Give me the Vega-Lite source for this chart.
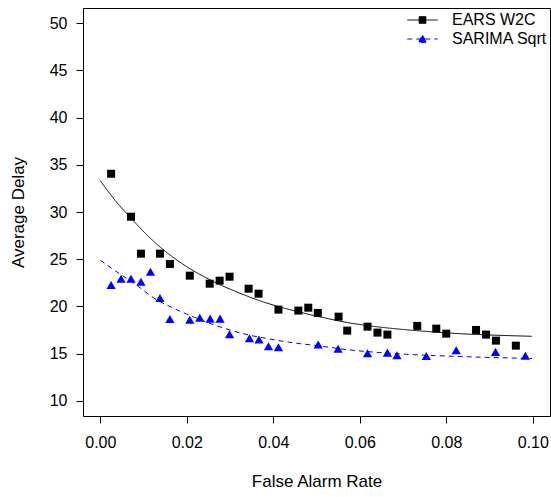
{
  "$schema": "https://vega.github.io/schema/vega-lite/v6.json",
  "width": 467,
  "height": 408,
  "autosize": "none",
  "padding": {"left": 83, "top": 8, "right": 1, "bottom": 81},
  "background": "white",
  "datasets": {
    "points": [
      {"series": "EARS W2C", "rate": 0.0025, "delay": 34.05},
      {"series": "EARS W2C", "rate": 0.0071, "delay": 29.50},
      {"series": "EARS W2C", "rate": 0.0094, "delay": 25.59},
      {"series": "EARS W2C", "rate": 0.0138, "delay": 25.59},
      {"series": "EARS W2C", "rate": 0.0161, "delay": 24.50},
      {"series": "EARS W2C", "rate": 0.0207, "delay": 23.26},
      {"series": "EARS W2C", "rate": 0.0253, "delay": 22.41},
      {"series": "EARS W2C", "rate": 0.0276, "delay": 22.73},
      {"series": "EARS W2C", "rate": 0.0299, "delay": 23.15},
      {"series": "EARS W2C", "rate": 0.0343, "delay": 21.88},
      {"series": "EARS W2C", "rate": 0.0366, "delay": 21.35},
      {"series": "EARS W2C", "rate": 0.0412, "delay": 19.66},
      {"series": "EARS W2C", "rate": 0.0458, "delay": 19.56},
      {"series": "EARS W2C", "rate": 0.0481, "delay": 19.87},
      {"series": "EARS W2C", "rate": 0.0503, "delay": 19.31},
      {"series": "EARS W2C", "rate": 0.0551, "delay": 18.92},
      {"series": "EARS W2C", "rate": 0.0571, "delay": 17.44},
      {"series": "EARS W2C", "rate": 0.0618, "delay": 17.86},
      {"series": "EARS W2C", "rate": 0.0641, "delay": 17.23},
      {"series": "EARS W2C", "rate": 0.0664, "delay": 17.02},
      {"series": "EARS W2C", "rate": 0.0733, "delay": 17.94},
      {"series": "EARS W2C", "rate": 0.0777, "delay": 17.65},
      {"series": "EARS W2C", "rate": 0.0800, "delay": 17.12},
      {"series": "EARS W2C", "rate": 0.0869, "delay": 17.51},
      {"series": "EARS W2C", "rate": 0.0892, "delay": 17.02},
      {"series": "EARS W2C", "rate": 0.0915, "delay": 16.38},
      {"series": "EARS W2C", "rate": 0.0961, "delay": 15.85},
      {"series": "SARIMA Sqrt", "rate": 0.0025, "delay": 22.28},
      {"series": "SARIMA Sqrt", "rate": 0.0048, "delay": 22.94},
      {"series": "SARIMA Sqrt", "rate": 0.0071, "delay": 22.94},
      {"series": "SARIMA Sqrt", "rate": 0.0094, "delay": 22.62},
      {"series": "SARIMA Sqrt", "rate": 0.0116, "delay": 23.68},
      {"series": "SARIMA Sqrt", "rate": 0.0138, "delay": 20.90},
      {"series": "SARIMA Sqrt", "rate": 0.0161, "delay": 18.68},
      {"series": "SARIMA Sqrt", "rate": 0.0207, "delay": 18.60},
      {"series": "SARIMA Sqrt", "rate": 0.0230, "delay": 18.81},
      {"series": "SARIMA Sqrt", "rate": 0.0254, "delay": 18.71},
      {"series": "SARIMA Sqrt", "rate": 0.0277, "delay": 18.71},
      {"series": "SARIMA Sqrt", "rate": 0.0299, "delay": 17.06},
      {"series": "SARIMA Sqrt", "rate": 0.0345, "delay": 16.63},
      {"series": "SARIMA Sqrt", "rate": 0.0367, "delay": 16.49},
      {"series": "SARIMA Sqrt", "rate": 0.0389, "delay": 15.79},
      {"series": "SARIMA Sqrt", "rate": 0.0412, "delay": 15.68},
      {"series": "SARIMA Sqrt", "rate": 0.0504, "delay": 15.98},
      {"series": "SARIMA Sqrt", "rate": 0.0550, "delay": 15.53},
      {"series": "SARIMA Sqrt", "rate": 0.0618, "delay": 15.05},
      {"series": "SARIMA Sqrt", "rate": 0.0664, "delay": 15.11},
      {"series": "SARIMA Sqrt", "rate": 0.0686, "delay": 14.84},
      {"series": "SARIMA Sqrt", "rate": 0.0754, "delay": 14.76},
      {"series": "SARIMA Sqrt", "rate": 0.0823, "delay": 15.37},
      {"series": "SARIMA Sqrt", "rate": 0.0914, "delay": 15.19},
      {"series": "SARIMA Sqrt", "rate": 0.0983, "delay": 14.79}
    ],
    "fits": [
      {"series": "EARS W2C", "rate": 0.0000, "delay": 33.30},
      {"series": "EARS W2C", "rate": 0.0035, "delay": 31.20},
      {"series": "EARS W2C", "rate": 0.0071, "delay": 29.35},
      {"series": "EARS W2C", "rate": 0.0104, "delay": 27.75},
      {"series": "EARS W2C", "rate": 0.0138, "delay": 26.30},
      {"series": "EARS W2C", "rate": 0.0173, "delay": 25.05},
      {"series": "EARS W2C", "rate": 0.0211, "delay": 23.90},
      {"series": "EARS W2C", "rate": 0.0240, "delay": 23.15},
      {"series": "EARS W2C", "rate": 0.0277, "delay": 22.30},
      {"series": "EARS W2C", "rate": 0.0323, "delay": 21.40},
      {"series": "EARS W2C", "rate": 0.0369, "delay": 20.60},
      {"series": "EARS W2C", "rate": 0.0415, "delay": 19.95},
      {"series": "EARS W2C", "rate": 0.0461, "delay": 19.40},
      {"series": "EARS W2C", "rate": 0.0528, "delay": 18.70},
      {"series": "EARS W2C", "rate": 0.0553, "delay": 18.45},
      {"series": "EARS W2C", "rate": 0.0622, "delay": 17.95},
      {"series": "EARS W2C", "rate": 0.0691, "delay": 17.60},
      {"series": "EARS W2C", "rate": 0.0772, "delay": 17.30},
      {"series": "EARS W2C", "rate": 0.0830, "delay": 17.12},
      {"series": "EARS W2C", "rate": 0.0899, "delay": 16.98},
      {"series": "EARS W2C", "rate": 0.0998, "delay": 16.84},
      {"series": "SARIMA Sqrt", "rate": 0.0000, "delay": 24.89},
      {"series": "SARIMA Sqrt", "rate": 0.0035, "delay": 23.76},
      {"series": "SARIMA Sqrt", "rate": 0.0081, "delay": 22.35},
      {"series": "SARIMA Sqrt", "rate": 0.0127, "delay": 20.80},
      {"series": "SARIMA Sqrt", "rate": 0.0170, "delay": 19.80},
      {"series": "SARIMA Sqrt", "rate": 0.0207, "delay": 19.05},
      {"series": "SARIMA Sqrt", "rate": 0.0254, "delay": 18.20},
      {"series": "SARIMA Sqrt", "rate": 0.0300, "delay": 17.50},
      {"series": "SARIMA Sqrt", "rate": 0.0346, "delay": 16.95},
      {"series": "SARIMA Sqrt", "rate": 0.0392, "delay": 16.55},
      {"series": "SARIMA Sqrt", "rate": 0.0438, "delay": 16.20},
      {"series": "SARIMA Sqrt", "rate": 0.0507, "delay": 15.82},
      {"series": "SARIMA Sqrt", "rate": 0.0576, "delay": 15.40},
      {"series": "SARIMA Sqrt", "rate": 0.0645, "delay": 15.12},
      {"series": "SARIMA Sqrt", "rate": 0.0714, "delay": 14.92},
      {"series": "SARIMA Sqrt", "rate": 0.0772, "delay": 14.80},
      {"series": "SARIMA Sqrt", "rate": 0.0830, "delay": 14.70},
      {"series": "SARIMA Sqrt", "rate": 0.0899, "delay": 14.60},
      {"series": "SARIMA Sqrt", "rate": 0.0998, "delay": 14.49}
    ]
  },
  "encoding": {
    "x": {
      "field": "rate", "type": "quantitative",
      "scale": {"domain": [-0.004, 0.104], "nice": false, "zero": false},
      "axis": {"values": [0, 0.02, 0.04, 0.06, 0.08, 0.1], "format": ".2f", "title": "False Alarm Rate", "labelPadding": 11, "titlePadding": 23}
    },
    "y": {
      "field": "delay", "type": "quantitative",
      "scale": {"domain": [8.4, 51.6], "nice": false, "zero": false},
      "axis": {"values": [10, 15, 20, 25, 30, 35, 40, 45, 50], "title": "Average Delay", "labelPadding": 9, "titlePadding": 22}
    }
  },
  "layer": [
    {
      "data": {"name": "fits"},
      "mark": {"type": "line", "strokeWidth": 1, "interpolate": "monotone", "clip": true},
      "encoding": {
        "color": {
          "field": "series", "type": "nominal",
          "scale": {"domain": ["EARS W2C", "SARIMA Sqrt"], "range": ["#000000", "#0000ff"]},
          "legend": {
            "title": null,
            "orient": "none",
            "legendX": 331,
            "legendY": 3.5,
            "padding": 0,
            "symbolSize": 256,
            "labelOffset": 21,
            "rowPadding": 2,
            "labelFont": "Liberation Sans",
            "labelFontSize": 16,
            "labelColor": "black",
            "encode": {
              "symbols": {
                "update": {
                  "shape": {"signal": "datum.value === 'EARS W2C' ? 'M-1.9,0H1.9M-0.42,-0.42H0.42V0.42H-0.42Z' : 'M-1.9,0H1.9M0,-0.47L0.52,0.42H-0.52Z'"},
                  "fill": {"signal": "datum.value === 'EARS W2C' ? '#000000' : '#0000ff'"},
                  "stroke": {"signal": "datum.value === 'EARS W2C' ? '#000000' : '#0000ff'"},
                  "strokeDash": {"signal": "datum.value === 'EARS W2C' ? [] : [5, 4]"},
                  "strokeWidth": {"value": 1},
                  "opacity": {"value": 1},
                  "fillOpacity": {"value": 1},
                  "strokeOpacity": {"value": 1}
                }
              }
            }
          }
        },
        "strokeDash": {
          "field": "series", "type": "nominal",
          "scale": {"domain": ["EARS W2C", "SARIMA Sqrt"], "range": [[1, 0], [5, 4]]},
          "legend": null
        }
      }
    },
    {
      "data": {"name": "points"},
      "transform": [{"filter": "datum.series === 'EARS W2C'"}],
      "mark": {"type": "point", "shape": "square", "filled": true, "size": 64, "opacity": 1, "strokeWidth": 0},
      "encoding": {
        "color": {"field": "series", "type": "nominal"}
      }
    },
    {
      "data": {"name": "points"},
      "transform": [{"filter": "datum.series === 'SARIMA Sqrt'"}],
      "mark": {"type": "point", "shape": "triangle-up", "filled": true, "size": 86, "opacity": 1, "strokeWidth": 0},
      "encoding": {
        "color": {"field": "series", "type": "nominal"}
      }
    }
  ],
  "config": {
    "view": {"stroke": "#000000", "strokeWidth": 1},
    "axis": {
      "domain": false,
      "grid": false,
      "ticks": true,
      "tickSize": 7,
      "tickColor": "#000000",
      "tickWidth": 1,
      "labelFont": "Liberation Sans",
      "labelFontSize": 16,
      "labelColor": "#000000",
      "titleFont": "Liberation Sans",
      "titleFontSize": 17,
      "titleFontWeight": "normal",
      "titleColor": "#000000"
    }
  }
}
